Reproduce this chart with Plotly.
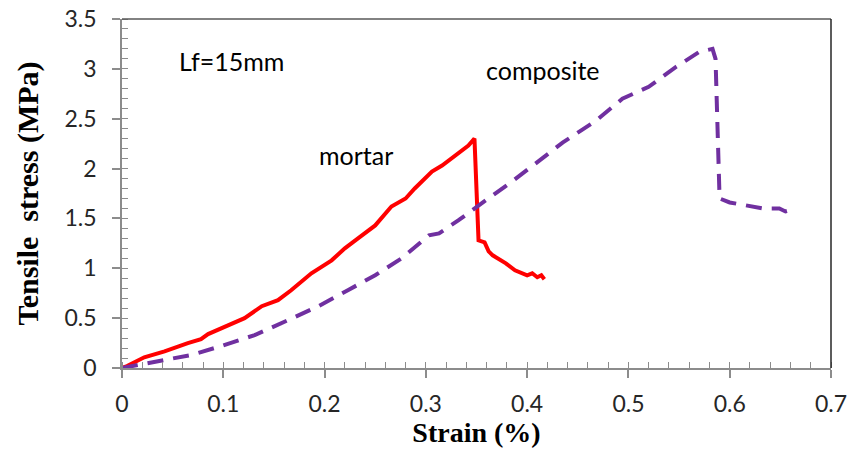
import plotly.graph_objects as go

# Mortar curve
mortar_strain = [0, 0.005, 0.022, 0.042, 0.065, 0.078, 0.085, 0.105, 0.121, 0.138, 0.154, 0.167,
                 0.187, 0.207, 0.220, 0.233, 0.250, 0.266, 0.280, 0.289, 0.306, 0.316, 0.329, 0.342,
                 0.348, 0.352, 0.358, 0.362, 0.366, 0.379, 0.388, 0.395, 0.400, 0.405, 0.410, 0.414, 0.417]
mortar_stress = [0, 0.02, 0.107, 0.167, 0.25, 0.29, 0.34, 0.43, 0.50, 0.62, 0.68, 0.78,
                 0.95, 1.08, 1.20, 1.30, 1.43, 1.62, 1.70, 1.80, 1.97, 2.03, 2.13, 2.23,
                 2.30, 1.28, 1.26, 1.17, 1.13, 1.05, 0.98, 0.95, 0.93, 0.95, 0.91, 0.93, 0.89]

# Composite curve
composite_strain = [0, 0.035, 0.068, 0.098, 0.131, 0.164, 0.194, 0.223, 0.250, 0.276, 0.303, 0.313,
                    0.332, 0.359, 0.385, 0.412, 0.435, 0.468, 0.494, 0.520, 0.547, 0.570, 0.583,
                    0.586, 0.588, 0.590, 0.600, 0.620, 0.633, 0.649, 0.655, 0.662]
composite_stress = [0, 0.07, 0.13, 0.22, 0.33, 0.48, 0.62, 0.78, 0.93, 1.10, 1.33, 1.35,
                    1.48, 1.68, 1.87, 2.08, 2.26, 2.48, 2.70, 2.82, 3.02, 3.17, 3.20,
                    3.10, 2.50, 1.70, 1.66, 1.62, 1.60, 1.60, 1.57, 1.59]

x_ticks = [0, 0.1, 0.2, 0.3, 0.4, 0.5, 0.6, 0.7]
x_tick_labels = ["0", "0.1", "0.2", "0.3", "0.4", "0.5", "0.6", "0.7"]
y_ticks = [0, 0.5, 1, 1.5, 2, 2.5, 3, 3.5]
y_tick_labels = ["0", "0.5", "1", "1.5", "2", "2.5", "3", "3.5"]

AX = "#8c8c8c"
TICKFONT = dict(family="Lato", size=23, color="#262626")
ANNFONT = dict(family="Lato", size=25, color="#000000")

fig = go.Figure()
fig.add_trace(go.Scatter(x=mortar_strain, y=mortar_stress, mode="lines", name="mortar",
                         line=dict(color="#FF0000", width=4)))
fig.add_trace(go.Scatter(x=composite_strain, y=composite_stress, mode="lines", name="composite",
                         line=dict(color="#7030A0", width=4, dash="16px,10px")))

fig.update_layout(
    width=850, height=454,
    margin=dict(l=122, r=19, t=19, b=86),
    paper_bgcolor="white", plot_bgcolor="white",
    showlegend=False,
    xaxis=dict(range=[0, 0.7], tickvals=x_ticks, ticktext=x_tick_labels, automargin=False,
               showgrid=False, zeroline=False, showline=True, linecolor=AX, linewidth=1.5,
               ticks="outside", ticklen=8, tickcolor=AX, tickwidth=1.5, ticklabelstandoff=7,
               ticklabeloverflow="allow",
               minor=dict(dtick=0.02, ticks="inside", ticklen=6, tickcolor=AX, tickwidth=1.2, showgrid=False),
               tickfont=TICKFONT,
               title=dict(text="<b>Strain (%)</b>",
                          font=dict(family="Liberation Serif", size=28, color="#000000"), standoff=5)),
    yaxis=dict(range=[0, 3.5], tickvals=y_ticks, ticktext=y_tick_labels, automargin=False,
               showgrid=False, zeroline=False, showline=True, linecolor=AX, linewidth=1.5,
               ticks="outside", ticklen=8, tickcolor=AX, tickwidth=1.5, ticklabelstandoff=11,
               ticklabeloverflow="allow",
               minor=dict(dtick=0.1, ticks="inside", ticklen=6, tickcolor=AX, tickwidth=1.2, showgrid=False),
               tickfont=TICKFONT,
               title=dict(text="<b>Tensile&nbsp; stress (MPa)</b>",
                          font=dict(family="Liberation Serif", size=30, color="#000000"), standoff=17)),
    xaxis2=dict(overlaying="x", matches="x", range=[0, 0.7], tickvals=x_ticks, showticklabels=False,
                showgrid=False, zeroline=False, showline=False, ticks="inside", ticklen=6,
                tickcolor=AX, tickwidth=1.5, anchor="y2", automargin=False),
    yaxis2=dict(overlaying="y", matches="y", range=[0, 3.5], tickvals=y_ticks, showticklabels=False,
                showgrid=False, zeroline=False, showline=False, ticks="inside", ticklen=6,
                tickcolor=AX, tickwidth=1.5, anchor="x2", automargin=False),
    shapes=[
        dict(type="line", xref="paper", yref="paper", x0=0, x1=1, y0=1, y1=1,
             line=dict(color="#595959", width=1.5)),
        dict(type="line", xref="paper", yref="paper", x0=1, x1=1, y0=0, y1=1,
             line=dict(color="#262626", width=1.5)),
    ],
    annotations=[
        dict(x=0.054, y=3.08, xref="x", yref="y", text="Lf=15mm", showarrow=False, xanchor="left",
             font=ANNFONT),
        dict(x=0.4156, y=2.99, xref="x", yref="y", text="composite", showarrow=False, font=ANNFONT),
        dict(x=0.2315, y=2.14, xref="x", yref="y", text="mortar", showarrow=False, font=ANNFONT),
    ],
)

# remove the default 8px page margin so the 850x454 figure fills the window exactly
fig.write_html("out.html", config={"displayModeBar": False},
               post_script="document.body.style.margin='0px';document.body.style.overflow='hidden';")
